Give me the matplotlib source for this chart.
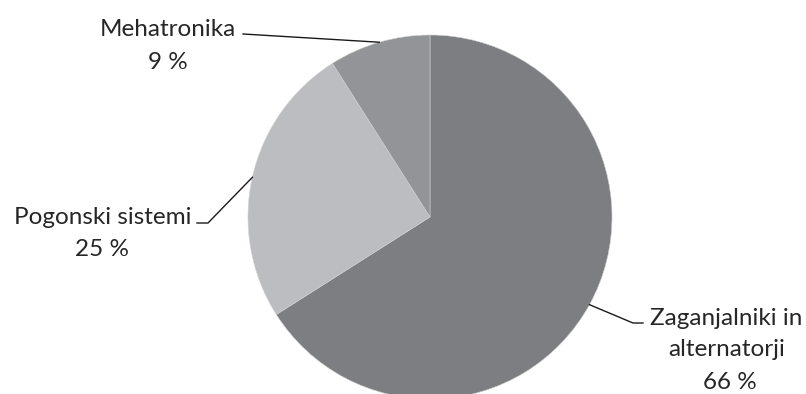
import numpy as np
import matplotlib.pyplot as plt

# shares of the three segments (percent)
labels = ["Zaganjalniki in alternatorji", "Pogonski sistemi", "Mehatronika"]
shares = [66, 25, 9]
colours = ["#7d7e82", "#bcbdc0", "#939497"]

plt.rcParams['font.family'] = ['Lato', 'DejaVu Sans']

W, H = 806, 394
fig = plt.figure(figsize=(W / 100, H / 100), dpi=100)
ax = fig.add_axes([0, 0, 1, 1])

# pie centre and radius in pixels (y measured from the top)
cx, cy, r = 430, 217, 182
wedges, _ = ax.pie(shares, colors=colours, startangle=90, counterclock=False,
                   center=(cx, H - cy), radius=r,
                   wedgeprops=dict(edgecolor='#d0d0d0', linewidth=0.4))
ax.set_xlim(0, W)
ax.set_ylim(0, H)
ax.set_aspect('equal')
ax.axis('off')

# anchor points at the middle of each wedge's arc
anchors = []
for w in wedges:
    mid = np.deg2rad((w.theta1 + w.theta2) / 2)
    anchors.append((cx + r * np.cos(mid), cy - r * np.sin(mid)))

def Y(y):
    return H - y

line_kw = dict(color='#1a1a1a', lw=1.0)
txt_kw = dict(color='#262626', fontsize=17.5, ha='center', va='baseline')

# Zaganjalniki in alternatorji
px, py = anchors[0]
ax.plot([px, 633, 643], [Y(py), Y(323), Y(323)], **line_kw)
ax.text(726, Y(325), "Zaganjalniki in", **txt_kw)
ax.text(727, Y(356), "alternatorji", **txt_kw)
ax.text(730, Y(389), f"{shares[0]} %", **txt_kw)

# Pogonski sistemi
px, py = anchors[1]
ax.plot([px, 208, 197], [Y(py), Y(223), Y(223)], **line_kw)
ax.text(103, Y(224), labels[1], **txt_kw)
ax.text(102, Y(256), f"{shares[1]} %", **txt_kw)

# Mehatronika
px, py = anchors[2]
ax.plot([px, 243], [Y(py), Y(34)], **line_kw)
ax.text(168, Y(36), labels[2], **txt_kw)
ax.text(168, Y(69), f"{shares[2]} %", **txt_kw)

fig.savefig("out.png", dpi=100)
